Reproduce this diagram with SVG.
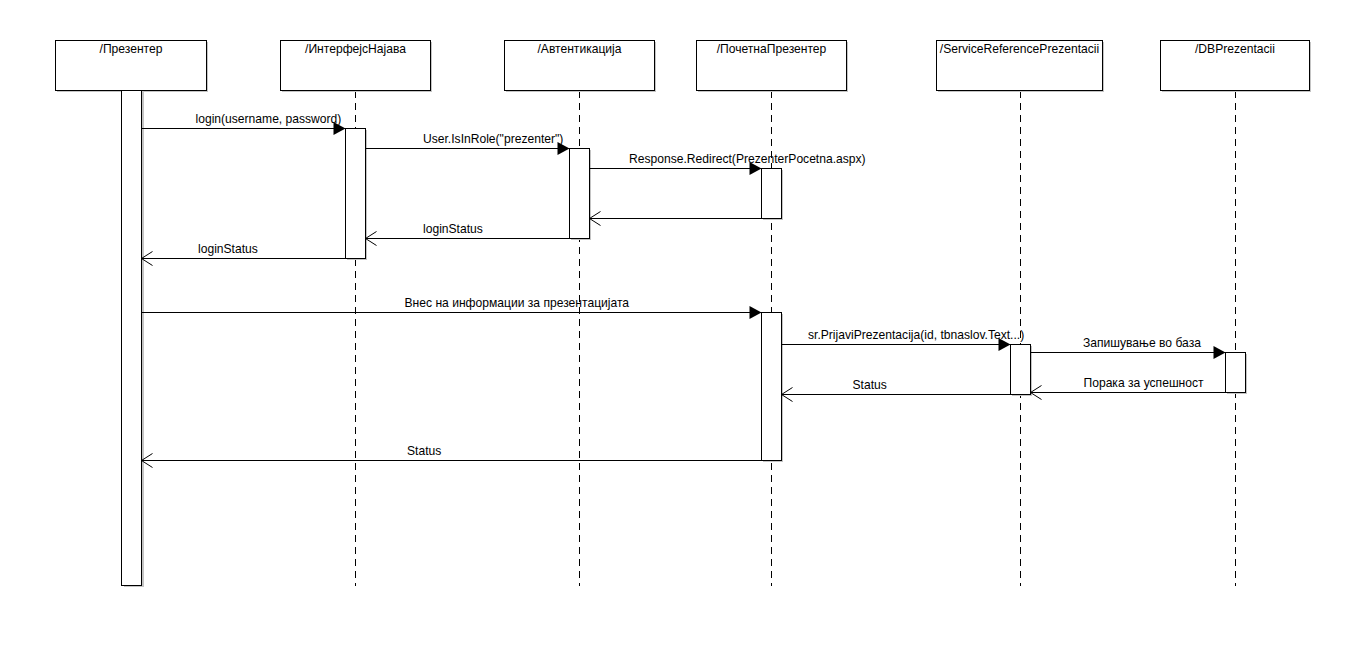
<svg xmlns="http://www.w3.org/2000/svg" width="1366" height="659" viewBox="0 0 1366 659">
<style>
.bg{fill:#ffffff}
.sh{fill:#c4c4c4;stroke:none}
.box{fill:#ffffff;stroke:#000000;stroke-width:1}
.life{stroke:#000000;stroke-width:1;stroke-dasharray:7,5;fill:none}
.bar{fill:#ffffff;stroke:#000000;stroke-width:1}
.msg{stroke:#000000;stroke-width:1;fill:none}
.call{marker-end:url(#filled)}
.ret{marker-end:url(#open)}
text{font-family:"Liberation Sans",Arial,sans-serif;font-size:12.1px;fill:#000000}
.title{text-anchor:middle}
</style>
<defs>
<marker id="filled" markerUnits="userSpaceOnUse" markerWidth="14" markerHeight="14" refX="12" refY="6.5" orient="auto" overflow="visible">
<path d="M0,0 L12,6.5 L0,13 Z" fill="#000000"/>
</marker>
<marker id="open" markerUnits="userSpaceOnUse" markerWidth="14" markerHeight="16" refX="11" refY="7" orient="auto" overflow="visible">
<path d="M0,0 L11,7 L0,14" fill="none" stroke="#000000" stroke-width="1"/>
</marker>
</defs>
<rect class="bg" x="0" y="0" width="1366" height="659"/>

<g id="lifelines">
<line class="life" x1="355.5" y1="91" x2="355.5" y2="586"/>
<line class="life" x1="579.5" y1="91" x2="579.5" y2="586"/>
<line class="life" x1="771.5" y1="91" x2="771.5" y2="586"/>
<line class="life" x1="1020.5" y1="91" x2="1020.5" y2="586"/>
<line class="life" x1="1235.5" y1="91" x2="1235.5" y2="586"/>
</g>

<g id="node-prezenter">
<rect class="sh" x="57" y="42" width="151" height="50"/>
<rect class="box" x="55.5" y="40.5" width="151" height="50"/>
<text class="title" x="131" y="53">/Презентер</text>
</g>
<g id="node-interfejs">
<rect class="sh" x="282" y="42" width="150" height="50"/>
<rect class="box" x="280.5" y="40.5" width="150" height="50"/>
<text class="title" x="355.5" y="53">/ИнтерфејсНајава</text>
</g>
<g id="node-avtentikacija">
<rect class="sh" x="506" y="42" width="150" height="50"/>
<rect class="box" x="504.5" y="40.5" width="150" height="50"/>
<text class="title" x="579.5" y="53">/Автентикација</text>
</g>
<g id="node-pocetna">
<rect class="sh" x="698" y="42" width="150" height="50"/>
<rect class="box" x="696.5" y="40.5" width="150" height="50"/>
<text class="title" x="771.5" y="53">/ПочетнаПрезентер</text>
</g>
<g id="node-service">
<rect class="sh" x="938" y="42" width="166" height="50"/>
<rect class="box" x="936.5" y="40.5" width="166" height="50"/>
<text class="title" x="1019.5" y="53">/ServiceReferencePrezentacii</text>
</g>
<g id="node-db">
<rect class="sh" x="1162" y="42" width="149" height="50"/>
<rect class="box" x="1160.5" y="40.5" width="149" height="50"/>
<text class="title" x="1235" y="53">/DBPrezentacii</text>
</g>

<g id="activations">
<rect class="sh" x="124" y="92" width="20" height="495"/>
<rect class="bar" x="121.5" y="90.5" width="20" height="495"/>
<rect class="sh" x="347" y="130" width="20" height="130"/>
<rect class="bar" x="345.5" y="128.5" width="20" height="130"/>
<rect class="sh" x="571" y="150" width="20" height="90"/>
<rect class="bar" x="569.5" y="148.5" width="20" height="90"/>
<rect class="sh" x="763" y="170" width="20" height="50"/>
<rect class="bar" x="761.5" y="168.5" width="20" height="50"/>
<rect class="sh" x="763" y="314" width="20" height="148"/>
<rect class="bar" x="761.5" y="312.5" width="20" height="148"/>
<rect class="sh" x="1012" y="346" width="20" height="50"/>
<rect class="bar" x="1010.5" y="344.5" width="20" height="50"/>
<rect class="sh" x="1227" y="354" width="20" height="40"/>
<rect class="bar" x="1225.5" y="352.5" width="20" height="40"/>
</g>

<g id="connectors">
<line class="msg call" x1="141.5" y1="128.5" x2="345.5" y2="128.5"/>
<line class="msg call" x1="365.5" y1="148.5" x2="569.5" y2="148.5"/>
<line class="msg call" x1="589.5" y1="168.5" x2="761.5" y2="168.5"/>
<line class="msg ret" x1="761.5" y1="218.5" x2="589.5" y2="218.5"/>
<line class="msg ret" x1="569.5" y1="238.5" x2="365.5" y2="238.5"/>
<line class="msg ret" x1="345.5" y1="258.5" x2="141.5" y2="258.5"/>
<line class="msg call" x1="141.5" y1="312.5" x2="761.5" y2="312.5"/>
<line class="msg call" x1="781.5" y1="344.5" x2="1010.5" y2="344.5"/>
<line class="msg call" x1="1030.5" y1="352.5" x2="1225.5" y2="352.5"/>
<line class="msg ret" x1="1225.5" y1="392.5" x2="1030.5" y2="392.5"/>
<line class="msg ret" x1="1010.5" y1="394.5" x2="781.5" y2="394.5"/>
<line class="msg ret" x1="761.5" y1="460.5" x2="141.5" y2="460.5"/>
</g>

<g id="labels">
<text x="195.5" y="123">login(username, password)</text>
<text x="423" y="143">User.IsInRole("prezenter")</text>
<text x="629" y="163">Response.Redirect(PrezenterPocetna.aspx)</text>
<text x="423" y="233">loginStatus</text>
<text x="198" y="253">loginStatus</text>
<text x="404.5" y="307">Внес на информации за презентацијата</text>
<text x="808" y="339">sr.PrijaviPrezentacija(id, tbnaslov.Text...)</text>
<text x="1083" y="347">Запишување во база</text>
<text x="852.5" y="389">Status</text>
<text x="1083.5" y="387">Порака за успешност</text>
<text x="407" y="455">Status</text>
</g>
</svg>
